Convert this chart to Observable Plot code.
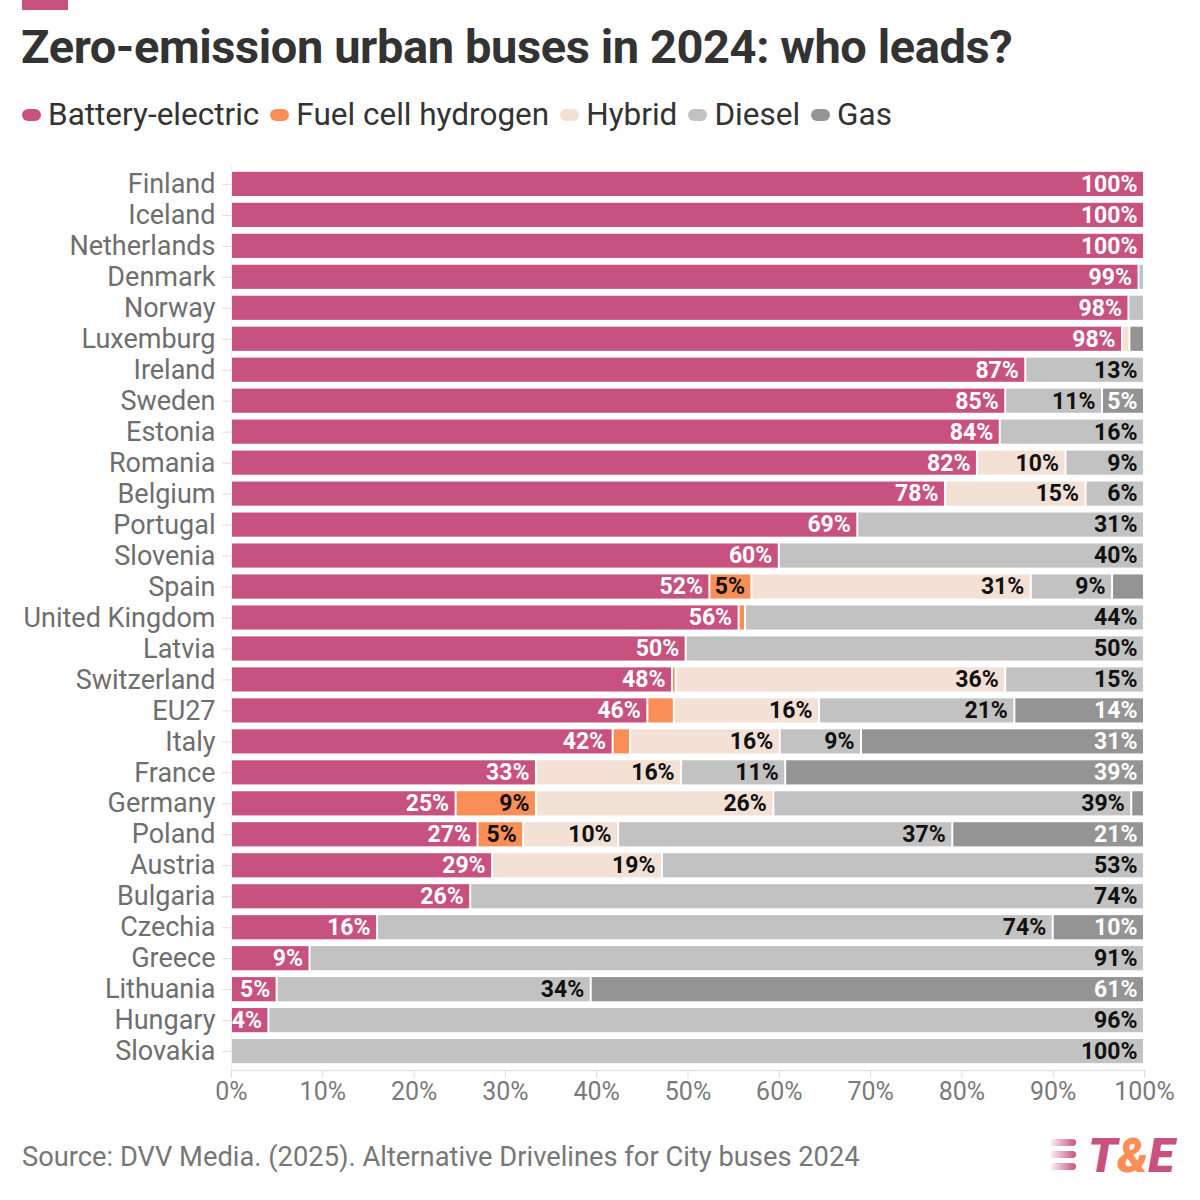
<!DOCTYPE html>
<html><head><meta charset="utf-8">
<script src="https://cdn.jsdelivr.net/npm/d3@7"></script>
<script src="https://cdn.jsdelivr.net/npm/@observablehq/plot@0.6"></script>
<style>
body{margin:0;background:#fff;font-family:Roboto,sans-serif;}
#wrap{position:relative;width:1200px;height:1200px;overflow:hidden;background:#fff;}
#topbar{position:absolute;left:22px;top:0;width:46px;height:10px;background:#c8527f;}
#title{position:absolute;left:21px;top:19px;font-size:47px;font-weight:700;color:#333;white-space:nowrap;letter-spacing:-0.4px;}
#legend{position:absolute;left:22px;top:96px;font-size:31.5px;color:#333;display:flex;align-items:center;white-space:nowrap;}
.item{display:flex;align-items:center;margin-right:11px;}
.sw{width:19px;height:12px;border-radius:6px;margin-right:7px;}
#chart{position:absolute;left:0;top:160px;}
#caption{position:absolute;left:22px;top:1141px;font-size:27.3px;color:#777;white-space:nowrap;}
#logo{position:absolute;left:1088px;top:1127px;font-size:48px;font-weight:900;font-style:italic;white-space:nowrap;letter-spacing:-0.3px;}
.stripe{position:absolute;left:1051px;width:25px;height:7px;background:linear-gradient(to right,rgba(200,82,127,0.1),rgba(200,82,127,1));border-radius:0 4px 4px 0;}
</style></head>
<body><div id="wrap">
<div id="topbar"></div>
<div id="title">Zero-emission urban buses in 2024: who leads?</div>
<div id="legend"></div>
<div id="chart"></div>
<div id="caption">Source: DVV Media. (2025). Alternative Drivelines for City buses 2024</div>
<div class="stripe" style="top:1139px"></div>
<div class="stripe" style="top:1151px"></div>
<div class="stripe" style="top:1163px"></div>
<div id="logo"><span style="color:#c8527f">T</span><span style="color:#f98e57">&amp;</span><span style="color:#c8527f">E</span></div>
</div>
<script>
const countries = ["Finland","Iceland","Netherlands","Denmark","Norway","Luxemburg","Ireland","Sweden","Estonia","Romania","Belgium","Portugal","Slovenia","Spain","United Kingdom","Latvia","Switzerland","EU27","Italy","France","Germany","Poland","Austria","Bulgaria","Czechia","Greece","Lithuania","Hungary","Slovakia"];
const bev    = [100,100,100,99.4,98.3,97.6,87,84.8,84.2,81.7,78.2,68.6,60,52.4,55.6,49.8,48.3,45.6,41.8,33.4,24.6,27,28.6,26.2,16,8.6,5,4.1,0];
const fch    = [0,0,0,0,0,0,0,0,0,0,0,0,0,4.6,0.7,0,0.4,2.9,1.9,0,8.8,5,0,0,0,0,0,0,0];
const hybrid = [0,0,0,0,0,0.8,0,0,0,9.7,15.4,0,0,30.6,0,0,36.1,15.9,16.4,15.9,26,10.4,18.6,0,0,0,0,0,0];
const diesel = [0,0,0,0.6,1.7,0,13,10.6,15.8,8.6,6.4,31.4,40,8.9,43.7,50.2,15.2,21.4,8.9,11.4,39.2,36.6,52.8,73.8,74,91.4,34.4,95.9,100];
const gas    = [0,0,0,0,0,1.6,0,4.6,0,0,0,0,0,3.5,0,0,0,14.2,31,39.3,1.4,21,0,0,10,0,60.6,0,0];
const types  = ["Battery-electric","Fuel cell hydrogen","Hybrid","Diesel","Gas"];
const colors = ["#c8527f","#f98e57","#f2e1d4","#c2c2c2","#949494"];
const whiteLabel = ["Battery-electric","Gas"];
const xTicks = [0,10,20,30,40,50,60,70,80,90,100];

// legend
const leg = document.getElementById("legend");
types.forEach((t,i)=>{
  const it = document.createElement("div"); it.className="item";
  const sw = document.createElement("div"); sw.className="sw"; sw.style.background=colors[i];
  const tx = document.createElement("span"); tx.textContent=t;
  it.appendChild(sw); it.appendChild(tx); leg.appendChild(it);
});

const series = [bev,fch,hybrid,diesel,gas];
const rows = [];
countries.forEach((c,i)=>{
  let acc = 0;
  series.forEach((s,k)=>{
    const v = s[i];
    if (v > 0) rows.push({country:c, type:types[k], x1:acc, x2:acc+v, value:v});
    acc += v;
  });
});
const labeled = rows.filter(d=>d.value>=3.9);

const chart = Plot.plot({
  width:1200, height:950,
  marginLeft:231, marginRight:56, marginTop:5, marginBottom:40,
  x:{domain:[0,100]},
  y:{domain:countries, padding:0.22, round:false},
  color:{domain:types, range:colors},
  style:{fontFamily:"Roboto, sans-serif", background:"white"},
  marks:[
    Plot.frame({anchor:"bottom", stroke:"#e2e2e2", strokeWidth:1.5}),
    Plot.ruleX([0],{stroke:"#f0f0f0"}),
    Plot.barX(rows,{x1:"x1",x2:"x2",y:"country",fill:"type",insetLeft:1,insetRight:1}),
    Plot.text(labeled.filter(d=>whiteLabel.includes(d.type)),{x:"x2",y:"country",text:d=>Math.round(d.value)+"%",textAnchor:"end",dx:-7,fill:"white",fontWeight:"bold",fontSize:23}),
    Plot.text(labeled.filter(d=>!whiteLabel.includes(d.type)),{x:"x2",y:"country",text:d=>Math.round(d.value)+"%",textAnchor:"end",dx:-7,fill:"#111",fontWeight:"bold",fontSize:23}),
    Plot.axisY({tickSize:9, tickPadding:7, fontSize:27, fill:"#6e6e6e", stroke:"#dddddd", label:null}),
    Plot.axisX({ticks:xTicks, tickFormat:d=>d+"%", tickSize:8, tickPadding:4, fontSize:25, fill:"#7a7a7a", stroke:"#dddddd", label:null})
  ]
});
document.getElementById("chart").appendChild(chart);
</script>
</body></html>
